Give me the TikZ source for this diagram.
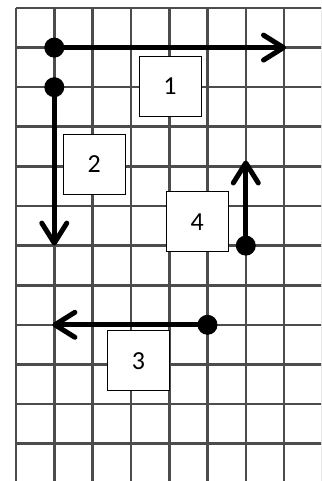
\documentclass[tikz,border=0pt]{standalone}
\usepackage{fontspec}
\setmainfont{Carlito}
\usetikzlibrary{positioning,arrows.meta}

\begin{document}
\begin{tikzpicture}[
      x=38.3pt, y=-39.6pt,
      gridline/.style={line width=2.6pt, draw=black!70},
      dot/.style={circle, fill=black, inner sep=0pt, minimum size=20pt},
      move/.style={line width=5pt,
                   -{Straight Barb[length=20pt, width=25pt, line cap=round, line join=round]}},
      num/.style={draw, line width=0.8pt, fill=white, minimum width=62pt,
                  minimum height=60pt, inner sep=0pt,
                  font=\fontsize{26}{30}\selectfont},
  ]
    \clip (-16pt,8pt) rectangle (305pt,-473pt);
    \fill[white] (-16pt,8pt) rectangle (305pt,-473pt);

    %% --- Grid ---
    \foreach \i in {0,...,8}
      \draw[gridline] (\i,0) -- (\i,12.5);
    \foreach \j in {0,...,12}
      \draw[gridline] (0,\j) -- (8.5,\j);

    %% --- Number boxes ---
    \node[num] (b1) at (4.02,1.97) {1};
    \node[num] (b2) at (2.04,3.94) {2};
    \node[num] (b3) at (3.2,8.91) {3};
    \node[num] (b4) at (4.73,5.4) {4};

    %% --- Start dots and arrow ends ---
    \node[dot] (s1) at (1,1) {};
    \node[dot] (s2) at (1,2) {};
    \node[dot] (s3) at (5,8) {};
    \node[dot] (s4) at (6,6) {};
    \coordinate (e1) at (7.05,1);
    \coordinate (e2) at (1,6);
    \coordinate (e3) at (0.95,8);
    \coordinate (e4) at (6,3.85);

    \draw[move] (s1.center) -- (e1);
    \draw[move] (s2.center) -- (e2);
    \draw[move] (s3.center) -- (e3);
    \draw[move] (s4.center) -- (e4);
  \end{tikzpicture}
\end{document}
